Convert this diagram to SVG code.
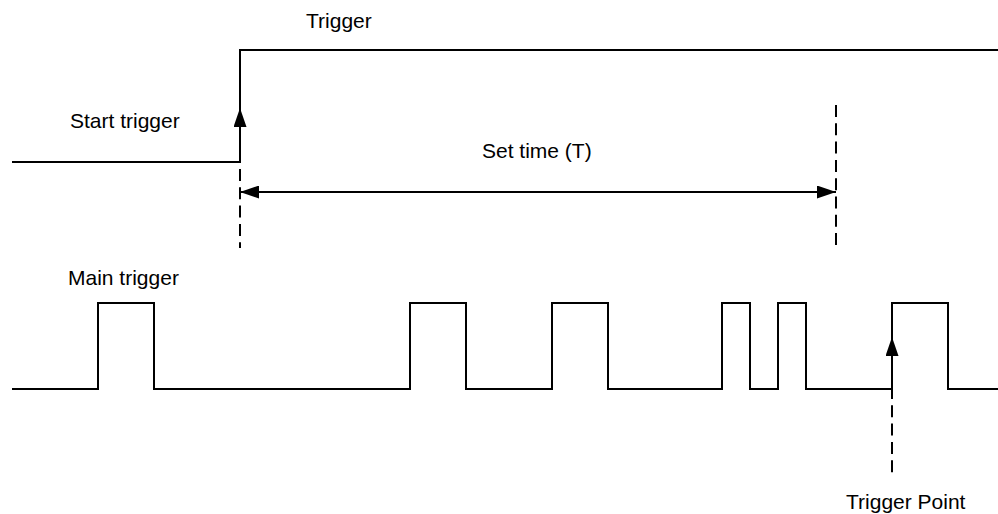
<svg xmlns="http://www.w3.org/2000/svg" width="998" height="514" viewBox="0 0 998 514">
  <style>
    .wave { fill: none; stroke: #000; stroke-width: 2; }
    .conn { fill: none; stroke: #000; stroke-width: 2; }
    .dash { fill: none; stroke: #000; stroke-width: 2; stroke-dasharray: 12 6.3; }
    .lbl { font-family: "Liberation Sans", Arial, Helvetica, sans-serif; font-size: 21px; fill: #000; }
  </style>
  <defs>
    <marker id="arrow" viewBox="0 0 19 13" refX="19" refY="6.5" markerWidth="19" markerHeight="13" markerUnits="userSpaceOnUse" orient="auto-start-reverse">
      <path d="M0,0 L19,6.5 L0,13 Z" fill="#000"/>
    </marker>
  </defs>
  <rect width="998" height="514" fill="#fff"/>

  <g id="start-trigger">
    <path class="wave" d="M12,162 H240 V50 H998"/>
    <text class="lbl" x="70" y="128">Start trigger</text>
    <text class="lbl" x="306" y="28">Trigger</text>
  </g>

  <g id="set-time">
    <text class="lbl" x="482" y="158">Set time (T)</text>
  </g>

  <g id="main-trigger">
    <path class="wave" d="M12,389 H98 V303 H154 V389 H410 V303 H466 V389 H552 V303 H608 V389 H722 V303 H750 V389 H778 V303 H806 V389 H892 V303 H948 V389 H998"/>
    <text class="lbl" x="68" y="285">Main trigger</text>
  </g>

  <g id="trigger-point">
    <text class="lbl" x="846" y="509">Trigger Point</text>
  </g>

  <g id="connectors">
    <path class="conn" d="M240,162 V108" marker-end="url(#arrow)"/>
    <path class="dash" d="M240,169 V248"/>
    <path class="dash" d="M836,105 V248"/>
    <path class="conn" d="M240,192 H836" marker-start="url(#arrow)" marker-end="url(#arrow)"/>
    <path class="conn" d="M892,389 V337" marker-end="url(#arrow)"/>
    <path class="dash" d="M892,387 V475"/>
  </g>
</svg>
